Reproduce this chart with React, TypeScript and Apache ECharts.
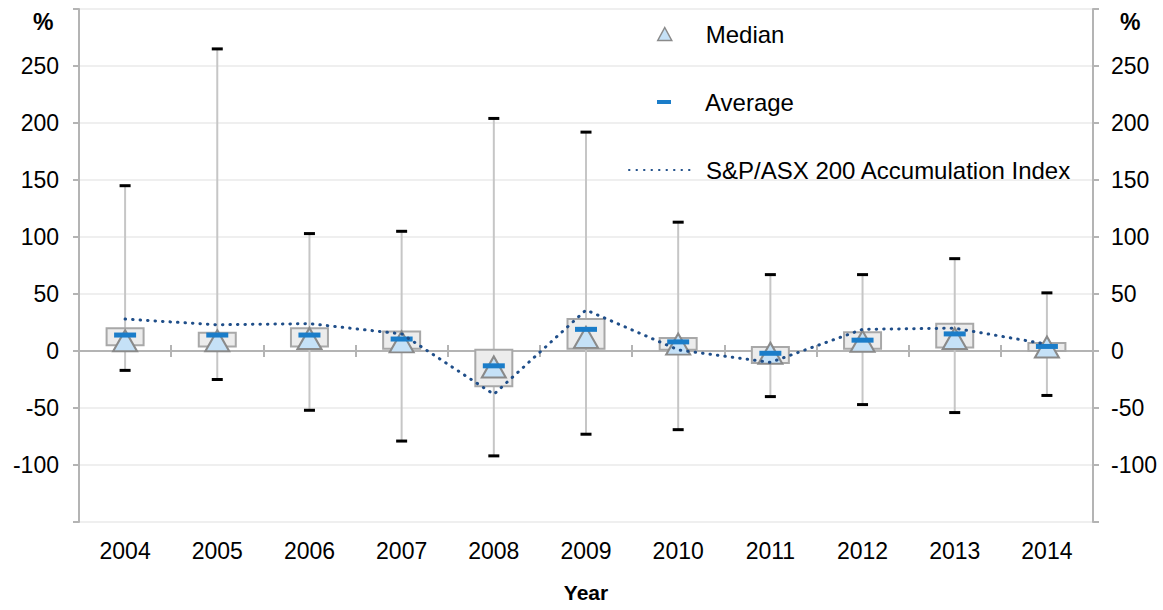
import React, { useEffect, useRef } from "react";
import * as echarts from "echarts";

const years = ["2004", "2005", "2006", "2007", "2008", "2009", "2010", "2011", "2012", "2013", "2014"];
const maxV = [145, 265, 103, 105, 204, 192, 113, 67, 67, 81, 51];
const minV = [-17, -25, -52, -79, -92, -73, -69, -40, -47, -54, -39];
const q3V = [20, 16, 20, 17, 1, 28, 11.5, 3.5, 16.5, 24, 7];
const q1V = [5, 4, 4, 2, -31, 2, 1, -10.5, 2, 3, 0];
const avgV = [14, 14, 14, 10.5, -13, 19, 8, -2, 9.5, 15, 4];
const medianV = [9, 9, 11, 8, -14, 12, 6, -2, 8.5, 11, 3.5];
const indexV = [28, 23, 24, 15, -38, 36, 1, -10, 19, 20, 6];

const FONT = "'Liberation Sans', Arial, sans-serif";
const AXIS_GRAY = "#b4b4b4";

export default function App() {
  const ref = useRef<HTMLDivElement>(null);
  useEffect(() => {
    if (!ref.current) return;
    const chart = echarts.init(ref.current, null, { renderer: "svg" });
    const boxData = years.map((_, i) => [i, minV[i], maxV[i], q1V[i], q3V[i]]);
    const yLabel = (v: number) => (v === 300 || v === -150 ? "" : String(v));
    const yAxisBase = {
      type: "value",
      min: -150,
      max: 300,
      interval: 50,
      axisLine: { show: true, lineStyle: { color: AXIS_GRAY, width: 2 } },
      axisTick: { show: true, length: 6, lineStyle: { color: AXIS_GRAY, width: 2 } },
      axisLabel: { formatter: yLabel, color: "#000", fontSize: 23, fontFamily: FONT },
    };
    const legendText = { fontSize: 24, color: "#000", fontFamily: FONT };
    chart.setOption({
      animation: false,
      backgroundColor: "#fff",
      textStyle: { fontFamily: FONT },
      grid: { left: 79, right: 70, top: 9, bottom: 88, containLabel: false },
      graphic: [
        { type: "text", left: 33, top: 10, style: { text: "%", font: `bold 23px ${FONT}`, fill: "#000" } },
        { type: "text", left: 1120, top: 10, style: { text: "%", font: `bold 23px ${FONT}`, fill: "#000" } },
      ],
      legend: [
        {
          data: ["Median"], left: 657, top: 22, padding: 0, itemWidth: 14, itemHeight: 13,
          icon: "triangle",
          itemStyle: { borderWidth: 1.5 },
          textStyle: { ...legendText, padding: [0, 0, 0, 29] },
        },
        {
          data: ["Average"], left: 657, top: 90, padding: 0, itemWidth: 14, itemHeight: 4,
          icon: "rect",
          textStyle: { ...legendText, padding: [0, 0, 0, 29] },
        },
        {
          data: ["S&P/ASX 200 Accumulation Index"], left: 628, top: 158, padding: 0, itemWidth: 65, itemHeight: 14,
          itemStyle: { opacity: 0 },
          textStyle: { ...legendText, padding: [0, 0, 0, 7] },
        },
      ],
      xAxis: [
        {
          type: "category", data: years, position: "bottom", boundaryGap: true,
          axisLine: { show: false, onZero: false }, axisTick: { show: false },
          axisLabel: { color: "#000", fontSize: 23, fontFamily: FONT, margin: 17 },
          name: "Year", nameLocation: "middle", nameGap: 60,
          nameTextStyle: { color: "#000", fontSize: 21, fontWeight: "bold", fontFamily: FONT },
        },
        {
          type: "category", data: years, position: "bottom", boundaryGap: true,
          axisLine: { show: true, onZero: true, onZeroAxisIndex: 0, lineStyle: { color: AXIS_GRAY, width: 2 } },
          axisTick: { show: true, length: 6, lineStyle: { color: AXIS_GRAY, width: 2 } },
          axisLabel: { show: false }, splitLine: { show: false },
        },
        {
          type: "category", data: years, position: "top", boundaryGap: true,
          axisLine: { show: true, onZero: true, onZeroAxisIndex: 0, lineStyle: { color: AXIS_GRAY, width: 2 } },
          axisTick: { show: true, length: 6, lineStyle: { color: AXIS_GRAY, width: 2 } },
          axisLabel: { show: false }, splitLine: { show: false },
        },
      ],
      yAxis: [
        {
          ...yAxisBase, position: "left",
          axisLabel: { ...yAxisBase.axisLabel, margin: 20 },
          splitLine: { show: true, lineStyle: { color: "#efefef", width: 2 } },
        },
        {
          ...yAxisBase, position: "right",
          axisLabel: { ...yAxisBase.axisLabel, margin: 18 },
          splitLine: { show: false },
        },
      ],
      series: [
        {
          name: "Range",
          type: "custom",
          xAxisIndex: 0,
          yAxisIndex: 0,
          data: boxData,
          encode: { x: 0, y: [1, 2, 3, 4] },
          renderItem: (params: any, api: any) => {
            const x = api.value(0);
            const lo = api.coord([x, api.value(1)]);
            const hi = api.coord([x, api.value(2)]);
            const q1 = api.coord([x, api.value(3)]);
            const q3 = api.coord([x, api.value(4)]);
            const bw = 37;
            return {
              type: "group",
              children: [
                { type: "line", shape: { x1: hi[0], y1: hi[1], x2: lo[0], y2: lo[1] }, style: { stroke: "#c6c6c6", lineWidth: 2 } },
                { type: "rect", shape: { x: q3[0] - bw / 2, y: q3[1], width: bw, height: q1[1] - q3[1] }, style: { fill: "#ececec", stroke: "#a8a8a8", lineWidth: 2 } },
                { type: "rect", shape: { x: hi[0] - 5.5, y: hi[1] - 1.5, width: 11, height: 3 }, style: { fill: "#000" } },
                { type: "rect", shape: { x: lo[0] - 5.5, y: lo[1] - 1.5, width: 11, height: 3 }, style: { fill: "#000" } },
              ],
            };
          },
        },
        {
          name: "Median",
          type: "scatter",
          data: medianV,
          symbol: "triangle",
          symbolSize: [24, 21],
          itemStyle: { color: "#c5e1f7", borderColor: "#8a8a8a", borderWidth: 2, opacity: 1 },
        },
        {
          name: "Average",
          type: "scatter",
          data: avgV,
          symbol: "rect",
          symbolSize: [22, 5],
          itemStyle: { color: "#1b7dc9", opacity: 1 },
        },
        {
          name: "S&P/ASX 200 Accumulation Index",
          type: "line",
          data: indexV,
          symbol: "none",
          lineStyle: { color: "#1f4e89", width: 3, type: [0.5, 7], cap: "round" },
          itemStyle: { color: "#1f4e89" },
        },
      ],
    });
    return () => chart.dispose();
  }, []);
  return <div ref={ref} style={{ width: 1163, height: 610, position: "absolute", left: 0, top: 0 }} />;
}
